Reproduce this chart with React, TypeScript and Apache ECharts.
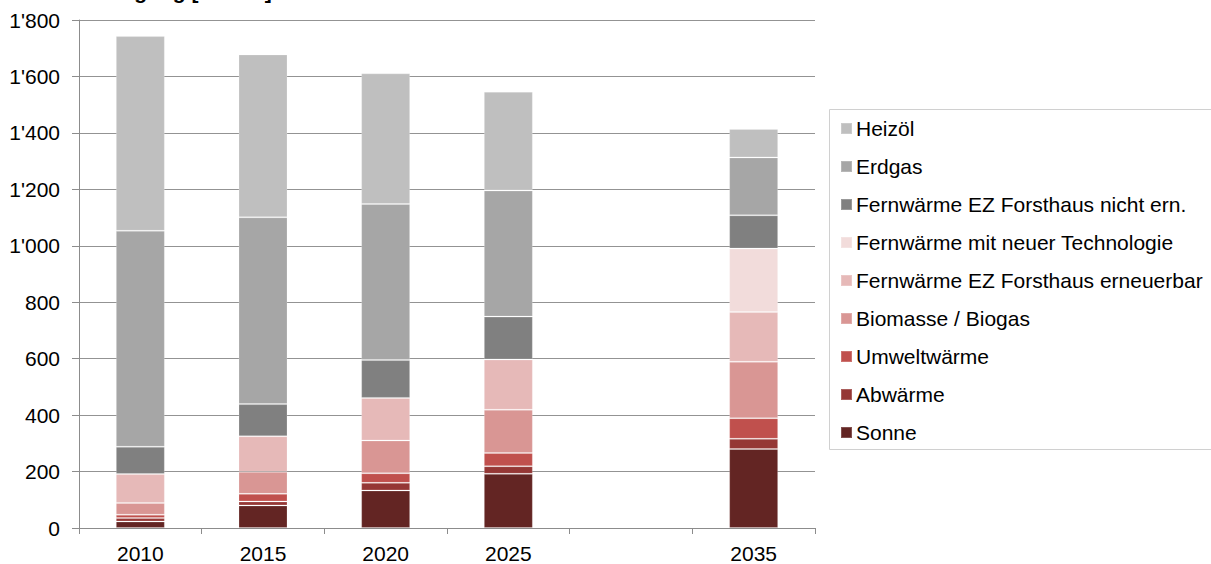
import React, { useEffect, useRef } from "react";
import * as echarts from "echarts";

const categories = ["2010", "2015", "2020", "2025", "", "2035"];
const sonne = [23, 80, 133, 192, null, 280];
const abwaerme = [12, 14, 27, 27, null, 36];
const umweltwaerme = [12, 27, 34, 47, null, 73];
const biomasse = [42, 78, 116, 153, null, 200];
const fwErneuerbar = [102, 126, 151, 178, null, 176];
const fwNeu = [null, null, null, null, null, 225];
const fwNichtErn = [97, 114, 134, 152, null, 118];
const erdgas = [765, 662, 553, 447, null, 205];
const heizoel = [690, 577, 463, 350, null, 101];

const seriesDefs = [
  { name: "Sonne", data: sonne, color: "#632523" },
  { name: "Abwärme", data: abwaerme, color: "#953735" },
  { name: "Umweltwärme", data: umweltwaerme, color: "#c0504d" },
  { name: "Biomasse / Biogas", data: biomasse, color: "#d99694" },
  { name: "Fernwärme EZ Forsthaus erneuerbar", data: fwErneuerbar, color: "#e6b9b8" },
  { name: "Fernwärme mit neuer Technologie", data: fwNeu, color: "#f2dcdb" },
  { name: "Fernwärme EZ Forsthaus nicht ern.", data: fwNichtErn, color: "#808080" },
  { name: "Erdgas", data: erdgas, color: "#a6a6a6" },
  { name: "Heizöl", data: heizoel, color: "#bfbfbf" },
];

const FONT = "'Liberation Sans', Arial, sans-serif";

export default function App() {
  const ref = useRef<HTMLDivElement>(null);
  useEffect(() => {
    if (!ref.current) return;
    const chart = echarts.init(ref.current, null, { renderer: "svg" });
    chart.setOption({
      animation: false,
      backgroundColor: "#ffffff",
      textStyle: { fontFamily: FONT },
      grid: { left: 79, right: 396, top: 20, bottom: 35, containLabel: false },
      xAxis: {
        type: "category",
        data: categories,
        boundaryGap: true,
        axisLine: { show: true, lineStyle: { color: "#8c8c8c", width: 1 } },
        axisTick: { show: true, alignWithLabel: false, length: 6, lineStyle: { color: "#8c8c8c" } },
        axisLabel: { color: "#000", fontSize: 21, fontFamily: FONT, margin: 15, interval: 0 },
      },
      yAxis: {
        type: "value",
        min: 0,
        max: 1800,
        interval: 200,
        axisLine: { show: true, lineStyle: { color: "#8c8c8c", width: 1 } },
        axisTick: { show: true, length: 7, lineStyle: { color: "#8c8c8c" } },
        splitLine: { show: true, lineStyle: { color: "#939393", width: 1 } },
        axisLabel: {
          color: "#000",
          fontSize: 21,
          fontFamily: FONT,
          margin: 19,
          formatter: (v: number) => String(v).replace(/\B(?=(\d{3})+(?!\d))/g, "'"),
        },
      },
      legend: {
        orient: "vertical",
        left: 840,
        top: 118,
        padding: 0,
        itemWidth: 11,
        itemHeight: 11,
        itemGap: 17,
        icon: "rect",
        data: seriesDefs.map((s) => s.name).reverse(),
        textStyle: { color: "#000", fontSize: 21, fontFamily: FONT, lineHeight: 21, padding: [0, 0, 0, -1] },
      },
      graphic: [
        {
          type: "rect",
          shape: { x: 829.5, y: 109.5, width: 400, height: 340 },
          style: { fill: "none", stroke: "#d0d0d0", lineWidth: 1 },
          silent: true,
        },
        {
          type: "text",
          x: 0,
          y: -9,
          style: {
            text: "Wärmeversorgung [GWh/a]",
            fontSize: 21,
            fontWeight: "bold",
            fontFamily: FONT,
            fill: "#000",
            align: "left",
            verticalAlign: "middle",
          },
        },
      ],
      series: seriesDefs.map((s) => ({
        name: s.name,
        type: "bar",
        stack: "total",
        data: s.data,
        barWidth: 49,
        itemStyle: { color: s.color, borderColor: "rgba(255,255,255,0.2)", borderWidth: 1 },
        emphasis: { disabled: true },
      })),
    });
    return () => chart.dispose();
  }, []);
  return (
    <div
      ref={ref}
      style={{ position: "fixed", left: 0, top: 0, width: 1211, height: 564 }}
    />
  );
}
